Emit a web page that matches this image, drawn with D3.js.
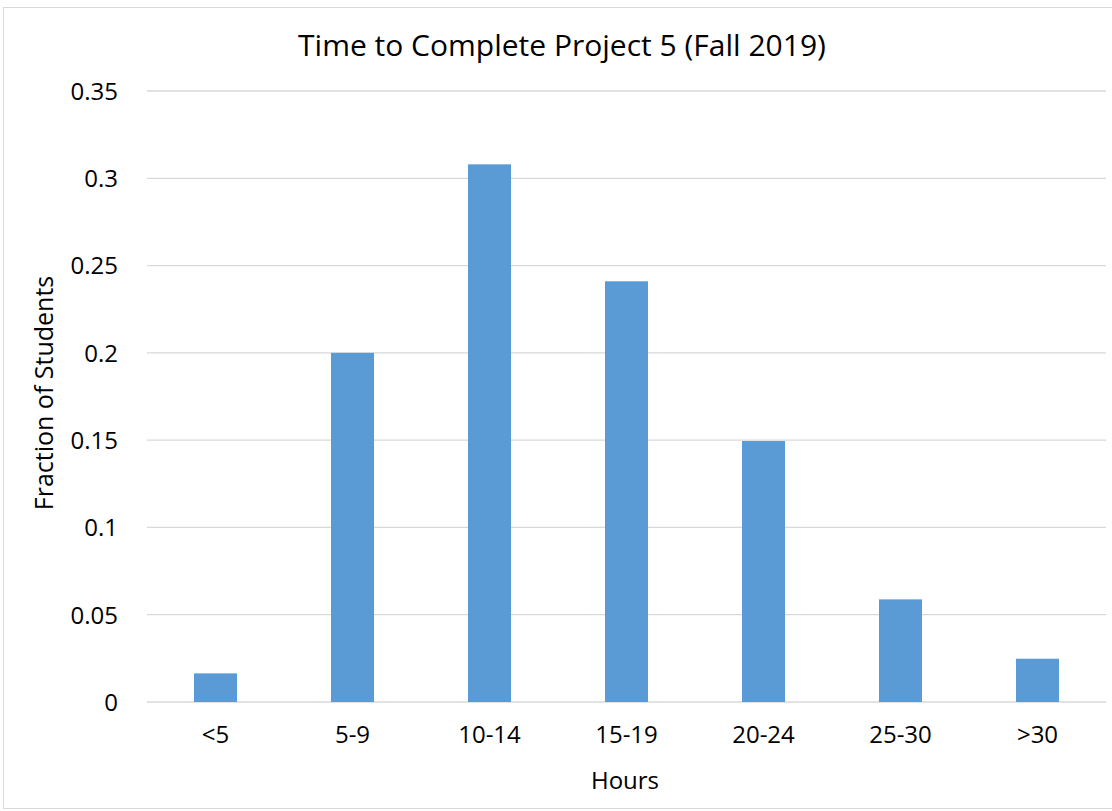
<!DOCTYPE html>
<html>
<head>
<meta charset="utf-8">
<script src="https://cdn.jsdelivr.net/npm/d3@7"></script>
<style>
  body { margin: 0; background: #fff; }
  text { font-family: "Open Sans", "Liberation Sans", sans-serif; fill: #000; }
</style>
</head>
<body>
<div id="chart"></div>
<script>
var categories = ["<5", "5-9", "10-14", "15-19", "20-24", "25-30", ">30"];
var fractions = [0.0164, 0.2, 0.308, 0.241, 0.1495, 0.0588, 0.0248];
var yTicks = [0, 0.05, 0.1, 0.15, 0.2, 0.25, 0.3, 0.35];

var width = 1112, height = 811;
var margin = {top: 91, right: 6, bottom: 109, left: 147};

var svg = d3.select("#chart").append("svg")
    .attr("width", width)
    .attr("height", height);

// chart area border
svg.append("rect")
    .attr("x", 3.5).attr("y", 7.5)
    .attr("width", width + 10).attr("height", height - 10)
    .attr("fill", "none")
    .attr("stroke", "#d9d9d9");

var x = d3.scaleBand()
    .domain(categories)
    .range([margin.left, width - margin.right])
    .paddingInner(0.686)
    .paddingOuter(0.343);

var y = d3.scaleLinear()
    .domain([0, 0.35])
    .range([height - margin.bottom, margin.top]);

// gridlines
svg.append("g")
  .selectAll("line")
    .data(yTicks)
  .enter().append("line")
    .attr("x1", margin.left)
    .attr("x2", width - margin.right)
    .attr("y1", function(d) { return y(d); })
    .attr("y2", function(d) { return y(d); })
    .attr("stroke", "#d9d9d9")
    .attr("stroke-width", 1.3);

// bars
svg.append("g")
  .selectAll("rect")
    .data(fractions)
  .enter().append("rect")
    .attr("x", function(d, i) { return x(categories[i]); })
    .attr("y", function(d) { return y(d); })
    .attr("width", x.bandwidth())
    .attr("height", function(d) { return y(0) - y(d); })
    .attr("fill", "#5b9bd5");

// y axis labels
var yAxis = d3.axisLeft(y)
    .tickValues(yTicks)
    .tickSize(0)
    .tickPadding(29)
    .tickFormat(function(d) { return d3.format("")(+d.toFixed(2)); });

svg.append("g")
    .attr("transform", "translate(" + margin.left + ",0)")
    .call(yAxis)
    .call(function(g) { g.select(".domain").remove(); })
    .selectAll("text")
    .style("font-size", "24px")
    .attr("dy", "0.35em");

// x axis labels
var xAxis = d3.axisBottom(x)
    .tickSize(0)
    .tickPadding(27);

svg.append("g")
    .attr("transform", "translate(0," + y(0) + ")")
    .call(xAxis)
    .call(function(g) { g.select(".domain").remove(); })
    .selectAll("text")
    .style("font-size", "24px")
    .attr("dy", "0.6em");

// title
svg.append("text")
    .attr("x", 562)
    .attr("y", 56)
    .attr("text-anchor", "middle")
    .style("font-size", "30px")
    .text("Time to Complete Project 5 (Fall 2019)");

// axis titles
svg.append("text")
    .attr("x", 625)
    .attr("y", 789)
    .attr("text-anchor", "middle")
    .style("font-size", "24px")
    .text("Hours");

svg.append("text")
    .attr("transform", "translate(53," + 393 + ") rotate(-90)")
    .attr("text-anchor", "middle")
    .style("font-size", "25px")
    .text("Fraction of Students");
</script>
</body>
</html>
